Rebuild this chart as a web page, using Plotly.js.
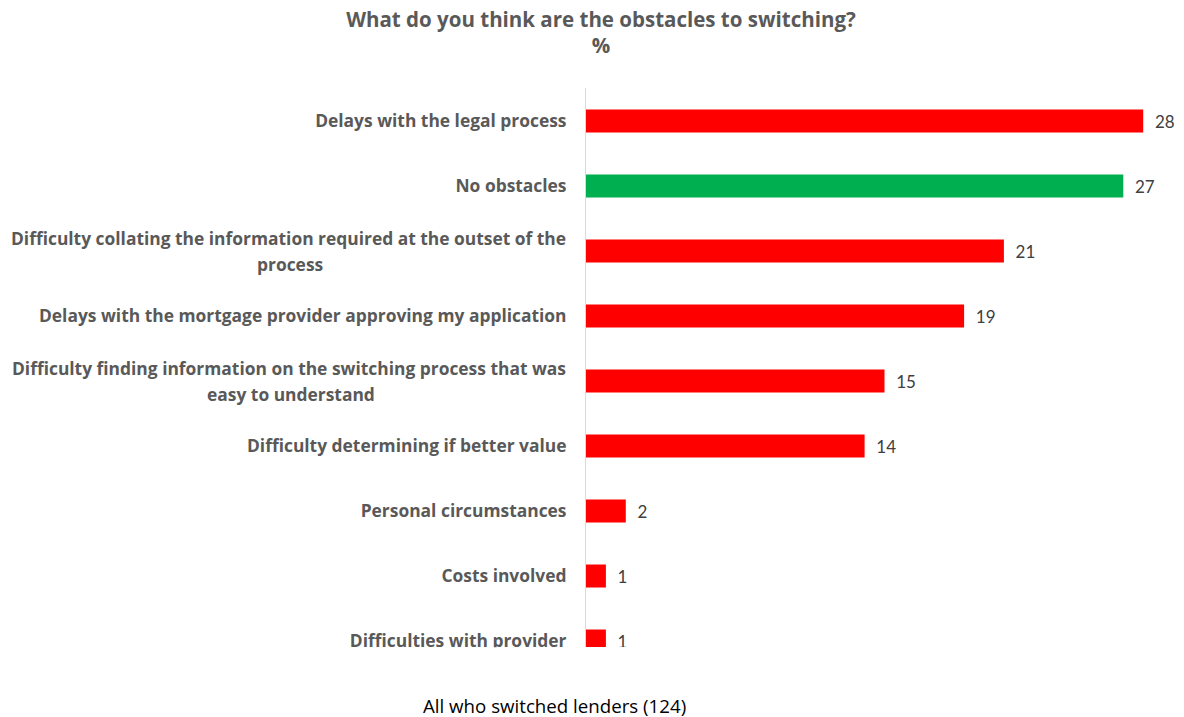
<!DOCTYPE html>
<html>
<head>
<meta charset="utf-8">
<script src="https://cdn.plot.ly/plotly-3.0.1.min.js"></script>
<style>html,body{margin:0;padding:0;background:#fff;}#chart{width:1184px;height:717px;}</style>
</head>
<body>
<div id="chart"></div>
<script>
const categories = [
  "Delays with the legal process",
  "No obstacles",
  "Difficulty collating the information required at the outset of the<br>process",
  "Delays with the mortgage provider approving my application",
  "Difficulty finding information on the switching process that was<br>easy to understand",
  "Difficulty determining if better value",
  "Personal circumstances",
  "Costs involved",
  "Difficulties with provider"
];
const values = [28, 27, 21, 19, 15, 14, 2, 1, 1];
const barColors = ["#FF0000", "#00B050", "#FF0000", "#FF0000", "#FF0000", "#FF0000", "#FF0000", "#FF0000", "#FF0000"];
const titleText = "What do you think are the obstacles to switching?<br>%";
const footnote = "All who switched lenders (124)";

const labelFont = {family: "'Open Sans', sans-serif", size: 17.4, color: "#595959", weight: 700};
const STANDOFF = 15;
const ANN_SHIFT = 18;

// single-line labels as tick labels; multi-line ones as annotations (one per line)
const tickText = categories.map(c => c.includes("<br>") ? "" : "<b>" + c + "</b>");
const annotations = [];
const pairs = [];
categories.filter(c => c.includes("<br>")).forEach(c => {
  const lines = c.split("<br>");
  pairs.push(annotations.length);
  annotations.push({
    x: 0, xref: "paper", y: c, yref: "y",
    xanchor: "right", yanchor: "middle", xshift: -ANN_SHIFT, yshift: 13,
    text: "<b>" + lines[0] + "</b>", showarrow: false, font: labelFont
  });
  annotations.push({
    x: 0, xref: "paper", y: c, yref: "y",
    xanchor: "center", yanchor: "middle", xshift: -ANN_SHIFT - 250, yshift: -13,
    text: "<b>" + lines[1] + "</b>", showarrow: false, font: labelFont
  });
});
annotations.push({
  x: -0.052, xref: "paper", y: -0.1055, yref: "paper",
  xanchor: "center", yanchor: "middle", showarrow: false,
  text: footnote, font: {family: "'Open Sans', sans-serif", size: 18.7, color: "#000000"}
});

const trace = {
  type: "bar", orientation: "h",
  x: values, y: categories,
  marker: {color: barColors, line: {width: 0}},
  text: values.map(v => "\u00a0\u00a0" + v),
  textposition: "outside",
  textfont: {family: "Lato, sans-serif", size: 17, color: "#404040"},
  cliponaxis: true,
  hoverinfo: "none"
};

const layout = {
  width: 1184, height: 717,
  margin: {l: 586, r: 1, t: 88, b: 70},
  paper_bgcolor: "#ffffff", plot_bgcolor: "#ffffff",
  showlegend: false,
  bargap: 0.646,
  title: {
    text: "<b>" + titleText + "</b>",
    x: 0.5076, xanchor: "center", xref: "container",
    y: 0.963, yanchor: "top", yref: "container",
    font: {family: "'Open Sans', sans-serif", size: 20.5, color: "#595959"}
  },
  xaxis: {range: [0, 30], showgrid: false, zeroline: false, showticklabels: false, showline: false, fixedrange: true},
  yaxis: {
    type: "category", range: [8.092, -0.508],
    tickvals: categories, ticktext: tickText,
    ticks: "", ticklabelstandoff: STANDOFF,
    showline: true, linecolor: "#d9d9d9", linewidth: 1,
    showgrid: false, zeroline: false,
    tickfont: labelFont, fixedrange: true
  },
  shapes: [{
    type: "rect", xref: "paper", yref: "paper", layer: "above",
    x0: -1, x1: 1.01, y0: -0.045, y1: -0.0005,
    fillcolor: "#ffffff", line: {width: 0}
  }],
  annotations: annotations
};

const gd = document.getElementById("chart");
Plotly.newPlot(gd, [trace], layout, {staticPlot: true, displayModeBar: false}).then(() => {
  // center each second line under its (right-aligned) first line
  const texts = gd.querySelectorAll(".annotation .annotation-text");
  const update = {};
  pairs.forEach(i => {
    const w = texts[i].getBBox().width;
    update["annotations[" + (i + 1) + "].xshift"] = -ANN_SHIFT - w / 2;
  });
  return Plotly.relayout(gd, update);
});
</script>
</body>
</html>
